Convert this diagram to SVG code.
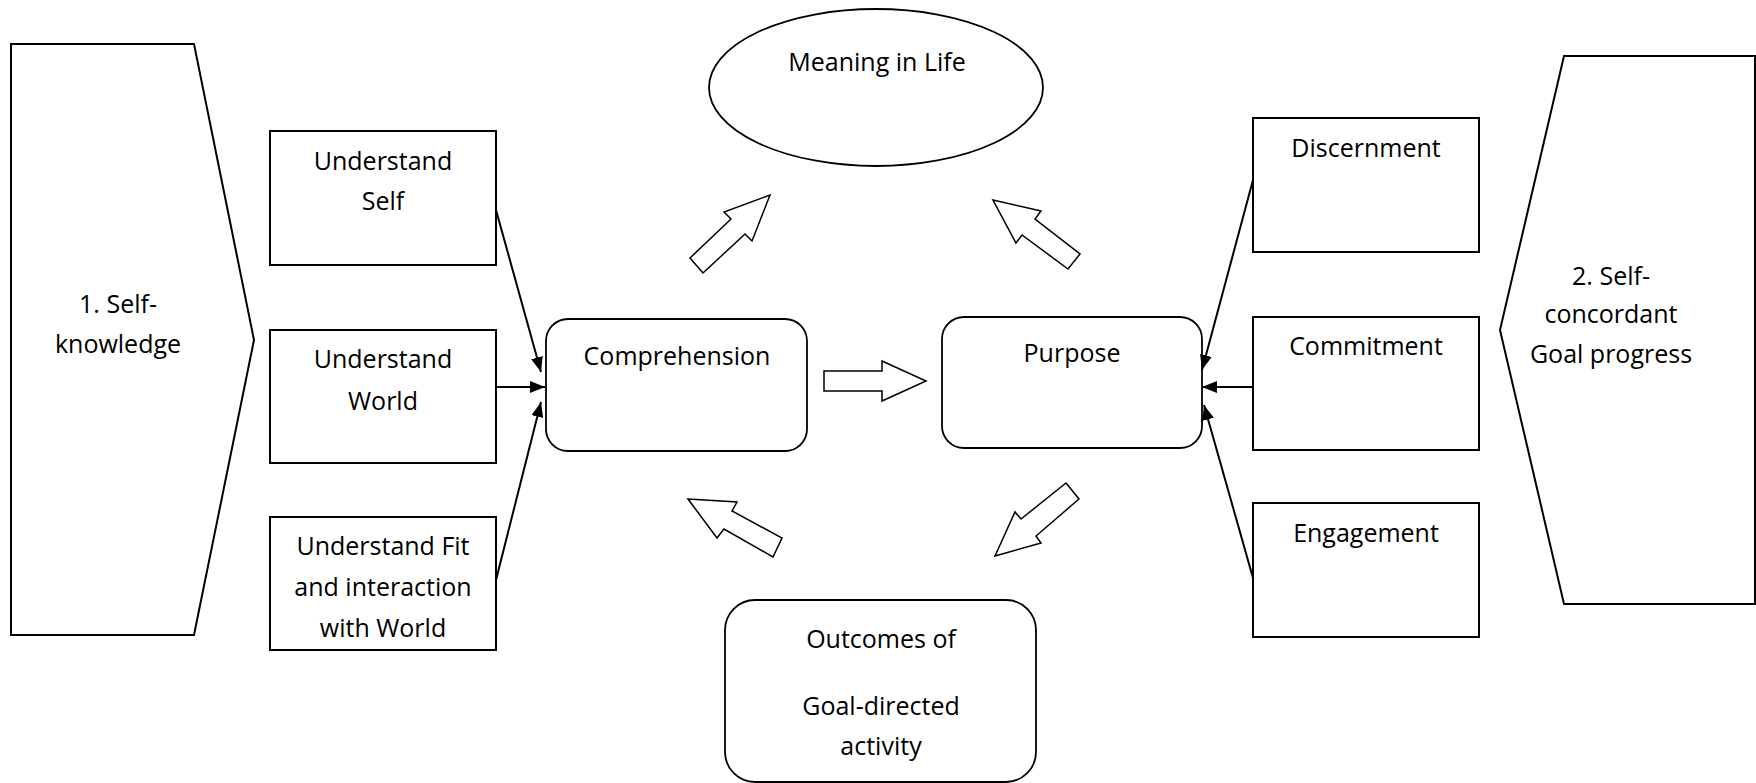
<svg xmlns="http://www.w3.org/2000/svg" width="1756" height="783" viewBox="0 0 1756 783">
  <style>
    .box { fill: #fff; stroke: #000; stroke-width: 2; }
    .rbox { fill: #fff; stroke: #000; stroke-width: 1.8; }
    .block { fill: #fff; stroke: #000; stroke-width: 1.5; stroke-linejoin: miter; }
    .link { fill: none; stroke: #000; stroke-width: 2; marker-end: url(#head); }
    text { font-family: "Open Sans", "Liberation Sans", sans-serif; font-size: 25px; fill: #000; text-anchor: middle; }
  </style>
  <defs>
    <marker id="head" markerUnits="userSpaceOnUse" markerWidth="15" markerHeight="12" refX="15" refY="6" orient="auto">
      <path d="M0,0 L15,6 L0,12 z" fill="#000"/>
    </marker>
  </defs>
  <rect width="1756" height="783" fill="#fff"/>

  <!-- side banners -->
  <g id="self-knowledge">
    <polygon class="box" points="11,44 194,44 254,340 194,635 11,635"/>
    <text x="118" y="313">1. Self-</text>
    <text x="118" y="353">knowledge</text>
  </g>
  <g id="goal-progress">
    <polygon class="box" points="1564,56 1755,56 1755,604 1564,604 1500,330"/>
    <text x="1611" y="285">2. Self-</text>
    <text x="1611" y="323">concordant</text>
    <text x="1611" y="363">Goal progress</text>
  </g>

  <!-- left inputs -->
  <g id="understand-self">
    <rect class="box" x="270" y="131" width="226" height="134"/>
    <text x="383" y="170">Understand</text>
    <text x="383" y="210">Self</text>
  </g>
  <g id="understand-world">
    <rect class="box" x="270" y="330" width="226" height="133"/>
    <text x="383" y="368">Understand</text>
    <text x="383" y="410">World</text>
  </g>
  <g id="understand-fit">
    <rect class="box" x="270" y="517" width="226" height="133"/>
    <text x="383" y="555">Understand Fit</text>
    <text x="383" y="596">and interaction</text>
    <text x="383" y="637">with World</text>
  </g>

  <!-- right inputs -->
  <g id="discernment">
    <rect class="box" x="1253" y="118" width="226" height="134"/>
    <text x="1366" y="157">Discernment</text>
  </g>
  <g id="commitment">
    <rect class="box" x="1253" y="317" width="226" height="133"/>
    <text x="1366" y="355">Commitment</text>
  </g>
  <g id="engagement">
    <rect class="box" x="1253" y="503" width="226" height="134"/>
    <text x="1366" y="542">Engagement</text>
  </g>

  <!-- core cycle -->
  <g id="meaning">
    <ellipse class="rbox" cx="876" cy="87.5" rx="167" ry="78.5"/>
    <text x="877" y="71">Meaning in Life</text>
  </g>
  <g id="comprehension">
    <rect class="rbox" x="546" y="319" width="261" height="132" rx="22" ry="22"/>
    <text x="677" y="365">Comprehension</text>
  </g>
  <g id="purpose">
    <rect class="rbox" x="942" y="317" width="260" height="131" rx="22" ry="22"/>
    <text x="1072" y="362">Purpose</text>
  </g>
  <g id="outcomes">
    <rect class="rbox" x="725" y="600" width="311" height="182" rx="30" ry="30"/>
    <text x="881" y="648">Outcomes of</text>
    <text x="881" y="715">Goal-directed</text>
    <text x="881" y="755">activity</text>
  </g>

  <!-- connectors -->
  <g id="connectors">
    <line class="link" x1="496" y1="210" x2="541" y2="372"/>
    <line class="link" x1="496" y1="387" x2="545" y2="387"/>
    <line class="link" x1="496" y1="580" x2="541" y2="402"/>
    <line class="link" x1="1253" y1="180" x2="1202" y2="370"/>
    <line class="link" x1="1253" y1="387" x2="1202" y2="387"/>
    <line class="link" x1="1253" y1="578" x2="1204" y2="405"/>

    <polygon class="block" points="824,371 882,371 882,361 926,381 882,401 882,391 824,391"/>
    <polygon class="block" points="690,258 731,219 724,212 770,195 752,241 745,234 703,273"/>
    <polygon class="block" points="993,200 1041,211 1035,219 1080,254 1068,269 1022,235 1016,243"/>
    <polygon class="block" points="1066,483 1079,499 1036,536 1041,543 995,556 1015,512 1021,519"/>
    <polygon class="block" points="688,499 737,502 732,511 782,538 773,557 724,529 717,538"/>
  </g>
</svg>
